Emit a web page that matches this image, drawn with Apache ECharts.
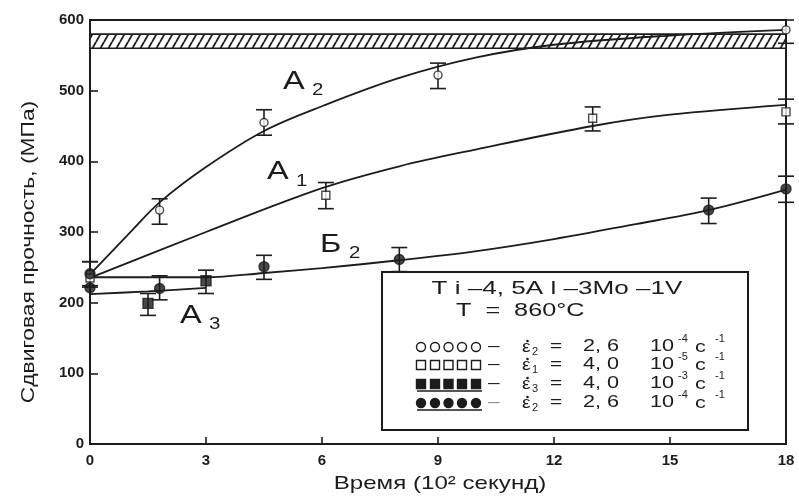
<!DOCTYPE html>
<html><head><meta charset="utf-8">
<script src="https://cdn.jsdelivr.net/npm/echarts@6/dist/echarts.min.js"></script>
<style>html,body{margin:0;padding:0;background:#fff}#c{width:799px;height:497px}</style>
</head><body><div id="c"></div>
<script>
// ---- data ----
const curveA2 = [[0,240],[1.1,303],[1.8,342],[3,392],[4.5,443],[6,478],[8,518],[10,547],[12,565],[15,578],[18,586]];
const curveA1 = [[0,235],[3,300],[6,362],[8,393],[10,417],[13,450],[15,466],[18,480]];
const curveB2 = [[0,236],[3,236],[4.5,242],[6,249],[8,260],[10,273],[12,290],[14,310],[16,331],[18,360]];
const curveA3 = [[0,212],[1.5,216],[3,221]];

const ptsOpenCircle = [[0,240],[1.8,331],[4.5,455],[9,522],[18,586]];
const errOpenCircle = [[0,222,258],[1.8,311,347],[4.5,437,473],[9,503,539],[18,567,600]];
const ptsOpenSquare = [[0,235],[6.1,352],[13,461],[18,470]];
const errOpenSquare = [[6.1,333,370],[13,443,477],[18,453,488]];
const ptsFilledSquare = [[1.5,199],[3,231]];
const errFilledSquare = [[1.5,182,213],[3,213,246]];
const ptsFilledCircle = [[0,241],[0,221],[1.8,220],[4.5,251],[8,261],[16,331],[18,361]];
const errFilledCircle = [[0,224,258],[1.8,204,238],[4.5,233,267],[8,244,278],[16,312,348],[18,342,379]];

const band = [[0,18,560,580]];
const curveLabels = [[4.99,513,'A','2'],[4.58,385,'A','1'],[5.95,282,'Б','2'],[2.33,182,'A','3']];

const xTickStep = 3, xMin = 0, xMax = 18;
const yTickStep = 100, yMin = 0, yMax = 600;
const xTitle = 'Время (10² секунд)';
const yTitle = 'Сдвиговая прочность, (МПа)';
const legTitle1 = 'T i –4, 5A l –3Mo –1V';
const legTitle2 = 'T  =  860°C';
const legSub = ['2','1','3','2'];
const legVal = ['2, 6','4, 0','4, 0','2, 6'];
const legExp = ['-4','-5','-3','-4'];
const legMarker = ['circle-open','square-open','square-filled','circle-filled'];

// ---- styling ----
const INK = '#1c1c1c';
const FONT = 'Liberation Sans, Arial, sans-serif';

const hatch = document.createElement('canvas');
hatch.width = 8; hatch.height = 14;
(function(){
  const g = hatch.getContext('2d');
  g.fillStyle = '#fff'; g.fillRect(0,0,8,14);
  g.strokeStyle = INK; g.lineWidth = 1.8;
  [[-8,0],[0,0],[8,0]].forEach(function(o){
    g.beginPath(); g.moveTo(o[0],14); g.lineTo(o[0]+8,0); g.stroke();
  });
})();

const chart = echarts.init(document.getElementById('c'), null, {renderer:'canvas'});

function lineSeries(d){
  return {type:'line', data:d, smooth:0.35, showSymbol:false, silent:true, z:2,
    lineStyle:{color:INK, width:1.8}};
}
function errSeries(d){
  return {type:'custom', data:d, z:3, silent:true,
    renderItem:function(params, api){
      const top = api.coord([api.value(0), api.value(2)]);
      const bot = api.coord([api.value(0), api.value(1)]);
      const w = 8;
      const st = {stroke:INK, lineWidth:1.6};
      return {type:'group', children:[
        {type:'line', shape:{x1:top[0],y1:top[1],x2:bot[0],y2:bot[1]}, style:st},
        {type:'line', shape:{x1:top[0]-w,y1:top[1],x2:top[0]+w,y2:top[1]}, style:st},
        {type:'line', shape:{x1:bot[0]-w,y1:bot[1],x2:bot[0]+w,y2:bot[1]}, style:st}
      ]};
    }};
}
function scatterSeries(d, sym, filled, size){
  return {type:'scatter', data:d, symbol:sym, symbolSize:size, z:4, silent:true,
    itemStyle:{color: filled?INK:'#fff', borderColor:INK, borderWidth:1.4}};
}

const option = {
  animation:false,
  backgroundColor:'#fff',
  grid:{left:90, right:13, top:20, bottom:53, show:true, borderColor:INK, borderWidth:2, backgroundColor:'transparent'},
  xAxis:{type:'value', min:xMin, max:xMax, interval:xTickStep,
    axisLine:{show:true, lineStyle:{color:INK, width:2}},
    axisTick:{show:true, inside:true, length:7, lineStyle:{color:INK, width:1.6}},
    axisLabel:{color:INK, fontSize:15, fontWeight:'bold', fontFamily:FONT, margin:9},
    splitLine:{show:false}},
  yAxis:{type:'value', min:yMin, max:yMax, interval:yTickStep,
    axisLine:{show:true, lineStyle:{color:INK, width:2}},
    axisTick:{show:true, inside:true, length:8, lineStyle:{color:INK, width:1.6}},
    axisLabel:{color:INK, fontSize:15, fontWeight:'bold', fontFamily:FONT, margin:6},
    splitLine:{show:false}},
  series:[
    {type:'custom', data:band, z:1, silent:true, clip:true,
      renderItem:function(params, api){
        const a = api.coord([api.value(0), api.value(3)]);
        const b = api.coord([api.value(1), api.value(2)]);
        return {type:'rect', shape:{x:a[0], y:a[1], width:b[0]-a[0], height:b[1]-a[1]},
          style:{fill:{image:hatch, repeat:'repeat'}, stroke:INK, lineWidth:1.6}};
      }},
    lineSeries(curveA2), lineSeries(curveA1), lineSeries(curveB2), lineSeries(curveA3),
    errSeries(errOpenCircle), errSeries(errOpenSquare), errSeries(errFilledSquare), errSeries(errFilledCircle),
    scatterSeries(ptsOpenCircle,'circle',false,8),
    scatterSeries(ptsOpenSquare,'rect',false,8),
    scatterSeries(ptsFilledSquare,'rect',true,10),
    scatterSeries(ptsFilledCircle,'circle',true,10),
    {type:'custom', data:curveLabels, z:5, silent:true,
      renderItem:function(params, api){
        const p = api.coord([api.value(0), api.value(1)]);
        const d = curveLabels[params.dataIndex];
        return {type:'group', children:[
          {type:'text', x:p[0], y:p[1], scaleX:1.25,
            style:{text:d[2], fill:INK, font:'26px '+FONT, align:'left', verticalAlign:'middle'}},
          {type:'text', x:p[0]+29, y:p[1]+9, scaleX:1.2,
            style:{text:d[3], fill:INK, font:'17px '+FONT, align:'left', verticalAlign:'middle'}}
        ]};
      }}
  ],
  graphic: buildGraphic()
};

function buildGraphic(){
  const els = [];
  els.push({type:'text', x:29, y:252, rotation:Math.PI/2, scaleX:1.2,
    style:{text:yTitle, fill:INK, font:'19px '+FONT, align:'center', verticalAlign:'middle'}});
  els.push({type:'text', x:440, y:484, scaleX:1.27,
    style:{text:xTitle, fill:INK, font:'19px '+FONT, align:'center', verticalAlign:'middle'}});
  // legend box
  els.push({type:'rect', z:10, shape:{x:382, y:272, width:366, height:158},
    style:{fill:'#fff', stroke:INK, lineWidth:2}});
  els.push({type:'text', z:11, x:557, y:289, scaleX:1.45,
    style:{text:legTitle1, fill:INK, font:'18px '+FONT, align:'center', verticalAlign:'middle'}});
  els.push({type:'text', z:11, x:456, y:311, scaleX:1.4,
    style:{text:legTitle2, fill:INK, font:'18px '+FONT, align:'left', verticalAlign:'middle'}});
  const rowsY = [347,365,384,403];
  const mx = [421,435,448.5,462,476];
  rowsY.forEach(function(y, i){
    const kind = legMarker[i];
    mx.forEach(function(x){
      if (kind.indexOf('circle')===0){
        els.push({type:'circle', z:11, shape:{cx:x, cy:y, r:4.5},
          style:{fill: kind.indexOf('filled')>0?INK:'#fff', stroke:INK, lineWidth:1.4}});
      } else {
        els.push({type:'rect', z:11, shape:{x:x-4.5, y:y-4.5, width:9, height:9},
          style:{fill: kind.indexOf('filled')>0?INK:'#fff', stroke:INK, lineWidth:1.4}});
      }
    });
    if (kind.indexOf('filled')>0){
      els.push({type:'line', z:11, shape:{x1:417, y1:y+7, x2:482, y2:y+7}, style:{stroke:INK, lineWidth:1.5}});
    }
    const col = i===3 ? '#8a8a8a' : INK;
    const f = '16px '+FONT;
    els.push({type:'text', z:11, x:488, y:y, scaleX:1.3, style:{text:'–', fill:col, font:f, align:'left', verticalAlign:'middle'}});
    els.push({type:'text', z:11, x:522, y:y+1, scaleX:1.2, style:{text:'ε', fill:INK, font:'16px '+FONT, align:'left', verticalAlign:'middle'}});
    els.push({type:'circle', z:11, shape:{cx:527.5, cy:y-6, r:1.3}, style:{fill:INK}});
    els.push({type:'text', z:11, x:532, y:y+5, style:{text:legSub[i], fill:INK, font:'11px '+FONT, align:'left', verticalAlign:'middle'}});
    els.push({type:'text', z:11, x:550, y:y, scaleX:1.3, style:{text:'=', fill:INK, font:f, align:'left', verticalAlign:'middle'}});
    els.push({type:'text', z:11, x:583, y:y, scaleX:1.35, style:{text:legVal[i], fill:INK, font:f, align:'left', verticalAlign:'middle'}});
    els.push({type:'text', z:11, x:650, y:y, scaleX:1.35, style:{text:'10', fill:INK, font:f, align:'left', verticalAlign:'middle'}});
    els.push({type:'text', z:11, x:678, y:y-8, style:{text:legExp[i], fill:INK, font:'11px '+FONT, align:'left', verticalAlign:'middle'}});
    els.push({type:'text', z:11, x:695, y:y+1, scaleX:1.35, style:{text:'c', fill:INK, font:f, align:'left', verticalAlign:'middle'}});
    els.push({type:'text', z:11, x:715, y:y-8, style:{text:'-1', fill:INK, font:'11px '+FONT, align:'left', verticalAlign:'middle'}});
  });
  return els;
}

chart.setOption(option);
</script>
</body></html>
